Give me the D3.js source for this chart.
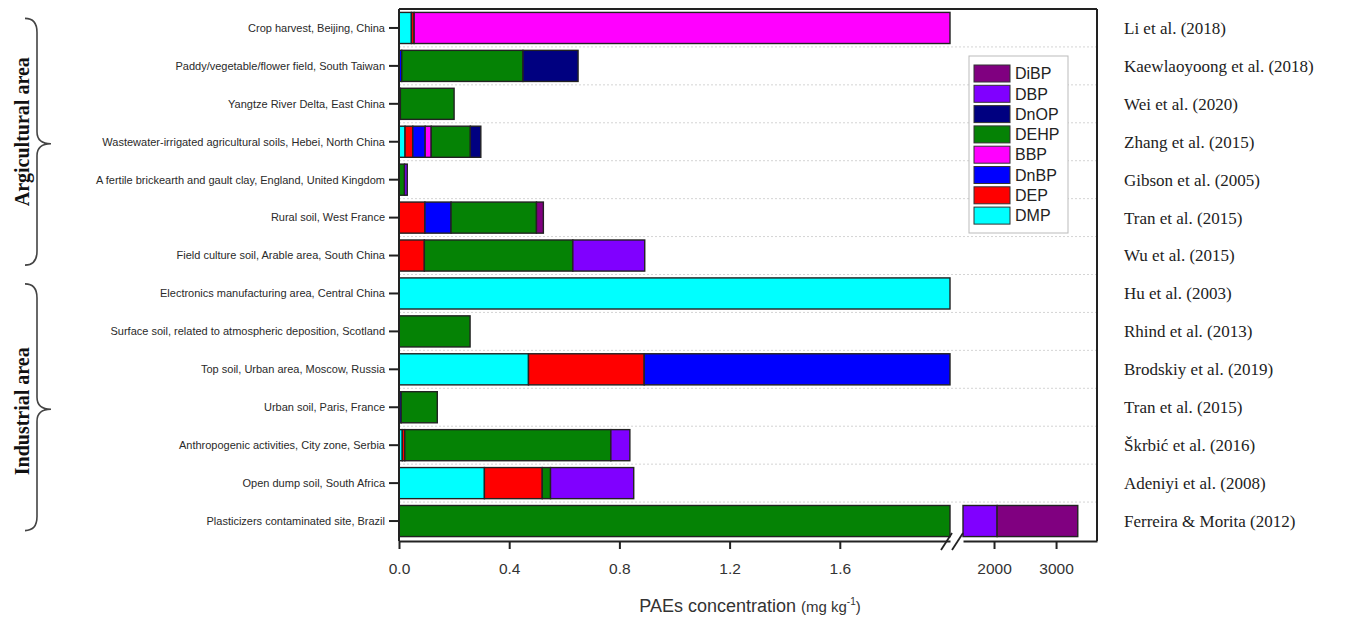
<!DOCTYPE html>
<html>
<head>
<meta charset="utf-8">
<script src="https://cdn.jsdelivr.net/npm/d3@7"></script>
<style>
  html, body { margin: 0; padding: 0; background: #fff; }
  svg { display: block; }
</style>
</head>
<body>
<svg id="chart" width="1363" height="621"></svg>
<script>
// ---------- DATA ----------
const categories = [
  "Crop harvest, Beijing, China",
  "Paddy/vegetable/flower field, South Taiwan",
  "Yangtze River Delta, East China",
  "Wastewater-irrigated agricultural soils, Hebei, North China",
  "A fertile brickearth and gault clay, England, United Kingdom",
  "Rural soil, West France",
  "Field culture soil, Arable area, South China",
  "Electronics manufacturing area, Central China",
  "Surface soil, related to atmospheric deposition, Scotland",
  "Top soil, Urban area, Moscow, Russia",
  "Urban soil, Paris, France",
  "Anthropogenic activities, City zone, Serbia",
  "Open dump soil, South Africa",
  "Plasticizers contaminated site, Brazil"
];
const references = [
  "Li et al. (2018)",
  "Kaewlaoyoong et al. (2018)",
  "Wei et al. (2020)",
  "Zhang et al. (2015)",
  "Gibson et al. (2005)",
  "Tran et al. (2015)",
  "Wu et al. (2015)",
  "Hu et al. (2003)",
  "Rhind et al. (2013)",
  "Brodskiy et al. (2019)",
  "Tran et al. (2015)",
  "Škrbić et al. (2016)",
  "Adeniyi et al. (2008)",
  "Ferreira & Morita (2012)"
];
const seriesNames = ["DMP", "DEP", "DnBP", "BBP", "DEHP", "DnOP", "DBP", "DiBP"];
const DMP  = [0.045, 0, 0, 0.022, 0, 0, 0, 2.0, 0, 0.47, 0, 0.012, 0.31, 0];
const DEP  = [0.01, 0, 0, 0.028, 0, 0.094, 0.092, 0, 0, 0.42, 0, 0.009, 0.21, 0];
const DnBP = [0, 0.01, 0.005, 0.045, 0, 0.095, 0, 0, 0, 1.11, 0.008, 0, 0, 0];
const BBP  = [1.945, 0, 0, 0.022, 0, 0, 0, 0, 0, 0, 0, 0, 0, 0];
const DEHP = [0, 0.44, 0.195, 0.142, 0.02, 0.31, 0.539, 0, 0.258, 0, 0.131, 0.748, 0.03, 1500];
const DnOP = [0, 0.2, 0, 0.038, 0, 0, 0, 0, 0, 0, 0, 0, 0, 0];
const DBP  = [0, 0, 0, 0, 0.01, 0, 0.261, 0, 0, 0, 0, 0.069, 0.302, 550];
const DiBP = [0, 0, 0, 0, 0, 0.025, 0, 0, 0, 0, 0, 0, 0, 1300];
const seriesColors = ["#00FFFF", "#FF0000", "#0000FF", "#FF00FF", "#058205", "#000080", "#8000FF", "#800080"];
const leftTicks = [0, 0.4, 0.8, 1.2, 1.6];
const rightTicks = [2000, 3000];
const groups = [
  { name: "Argicultural area", from: 0, to: 6, shift: -12 },
  { name: "Industrial area", from: 7, to: 13, shift: 2 }
];

// ---------- LAYOUT ----------
const svg = d3.select("#chart");
const plot = { left: 399, right: 1097, top: 9, bottom: 541 };
const breakLo = 2, breakHi = 1500, rightMax = 3660;
const breakL = 950, breakR = 963;

const x = d3.scaleLinear()
  .domain([0, breakLo, breakHi, rightMax])
  .range([plot.left, breakL, breakR, plot.right]);
const xLeft = d3.scaleLinear().domain([0, breakLo]).range([plot.left, breakL]);
const xRight = d3.scaleLinear().domain([breakHi, rightMax]).range([breakR, plot.right]);

const y = d3.scaleBand()
  .domain(categories)
  .range([plot.top, plot.bottom - 1])
  .paddingInner(0.18)
  .paddingOuter(0.09);

const color = d3.scaleOrdinal().domain(seriesNames).range(seriesColors);

const seriesArrays = [DMP, DEP, DnBP, BBP, DEHP, DnOP, DBP, DiBP];
const table = categories.map((c, i) => {
  const row = { category: c };
  seriesNames.forEach((s, k) => row[s] = seriesArrays[k][i]);
  return row;
});
const stacked = d3.stack().keys(seriesNames)(table);

// gridlines (dotted, between rows)
const step = y.step();
const gridG = svg.append("g");
categories.slice(0, -1).forEach((c, i) => {
  const gy = y(c) + y.bandwidth() + (step - y.bandwidth()) / 2;
  gridG.append("line")
    .attr("x1", plot.left).attr("x2", plot.right)
    .attr("y1", gy).attr("y2", gy)
    .attr("stroke", "#d4d4d4").attr("stroke-width", 1)
    .attr("stroke-dasharray", "2,2");
});

// bars
const barsG = svg.append("g");
stacked.forEach(layer => {
  layer.forEach((d, i) => {
    const a = d[0], b = d[1];
    if (b - a <= 0) return;
    const pieces = [];
    if (a < breakLo) pieces.push([a, Math.min(b, breakLo)]);
    if (b > breakHi) pieces.push([Math.max(a, breakHi), b]);
    pieces.forEach(p => {
      const w = x(p[1]) - x(p[0]);
      if (w <= 0) return;
      barsG.append("rect")
        .attr("x", x(p[0]))
        .attr("y", y(categories[i]))
        .attr("width", w)
        .attr("height", y.bandwidth())
        .attr("fill", color(layer.key))
        .attr("stroke", "#222")
        .attr("stroke-width", 1.4);
    });
  });
});

// frame
const frame = svg.append("g").attr("stroke", "#222").attr("stroke-width", 2).attr("fill", "none");
frame.append("line").attr("x1", plot.left).attr("x2", plot.right).attr("y1", plot.top).attr("y2", plot.top);
frame.append("line").attr("x1", plot.right).attr("x2", plot.right).attr("y1", plot.top).attr("y2", plot.bottom);
frame.append("line").attr("x1", plot.left).attr("x2", plot.left).attr("y1", plot.top).attr("y2", plot.bottom);

// x axes
const axL = svg.append("g").attr("transform", `translate(0,${plot.bottom})`)
  .call(d3.axisBottom(xLeft).tickValues(leftTicks).tickFormat(d3.format(".1f")).tickSizeInner(8).tickSizeOuter(0).tickPadding(14));
const axR = svg.append("g").attr("transform", `translate(0,${plot.bottom})`)
  .call(d3.axisBottom(xRight).tickValues(rightTicks).tickFormat(d3.format("d")).tickSizeInner(8).tickSizeOuter(0).tickPadding(14));
[axL, axR].forEach(ax => {
  ax.select(".domain").attr("stroke", "#222").attr("stroke-width", 2);
  ax.selectAll(".tick line").attr("stroke", "#222").attr("stroke-width", 2);
  ax.selectAll(".tick text")
    .attr("font-family", "Liberation Sans, Arial, sans-serif")
    .attr("font-size", 15.5).attr("fill", "#333");
});

// break marks
const brk = svg.append("g").attr("stroke", "#222").attr("stroke-width", 1.8);
[breakL - 4, breakR - 6].forEach(bx => {
  brk.append("line").attr("x1", bx - 5).attr("y1", plot.bottom + 9).attr("x2", bx + 6).attr("y2", plot.bottom - 8);
});

// y axis ticks and labels
const yG = svg.append("g");
categories.forEach(c => {
  const cy = y(c) + y.bandwidth() / 2;
  yG.append("line").attr("x1", plot.left - 10).attr("x2", plot.left)
    .attr("y1", cy).attr("y2", cy).attr("stroke", "#222").attr("stroke-width", 2);
  yG.append("text").attr("x", plot.left - 14).attr("y", cy).attr("dy", "0.35em")
    .attr("text-anchor", "end")
    .attr("font-family", "Liberation Sans, Arial, sans-serif")
    .attr("font-size", 11).attr("fill", "#2a2a2a").text(c);
});

// references on the right
const refG = svg.append("g");
references.forEach((r, i) => {
  const cy = y(categories[i]) + y.bandwidth() / 2;
  refG.append("text").attr("x", 1124).attr("y", cy).attr("dy", "0.35em")
    .attr("font-family", "Liberation Serif, Times New Roman, serif")
    .attr("font-size", 17).attr("fill", "#222").text(r);
});

// group braces and labels
const brG = svg.append("g");
groups.forEach(g => {
  const y0 = y(categories[g.from]) + 6;
  const y1 = y(categories[g.to]) + y.bandwidth() - 6;
  const ym = (y0 + y1) / 2 + 2;
  const sx = 37, ex = 25, tx = 51;
  const p = `M${ex},${y0} Q${sx},${y0} ${sx},${y0 + 14} L${sx},${ym - 12} Q${sx},${ym} ${tx},${ym} Q${sx},${ym} ${sx},${ym + 12} L${sx},${y1 - 14} Q${sx},${y1} ${ex},${y1}`;
  brG.append("path").attr("d", p).attr("fill", "none").attr("stroke", "#444").attr("stroke-width", 1.6);
  brG.append("text")
    .attr("transform", `translate(22,${ym + g.shift}) rotate(-90)`)
    .attr("text-anchor", "middle").attr("dy", "0.35em")
    .attr("font-family", "Liberation Serif, Times New Roman, serif")
    .attr("font-weight", "bold").attr("font-size", 20).attr("fill", "#111")
    .text(g.name);
});

// axis title
const title = svg.append("text").attr("x", 750).attr("y", 612).attr("text-anchor", "middle")
  .attr("font-family", "Liberation Sans, Arial, sans-serif").attr("fill", "#333");
title.append("tspan").attr("font-size", 18).text("PAEs concentration ");
title.append("tspan").attr("font-size", 15).text("(mg kg");
title.append("tspan").attr("font-size", 10).attr("dy", -7).text("-1");
title.append("tspan").attr("font-size", 15).attr("dy", 7).text(")");

// legend
const legend = svg.append("g");
legend.append("rect").attr("x", 969).attr("y", 56).attr("width", 99).attr("height", 177)
  .attr("fill", "#fff").attr("stroke", "#bbb").attr("stroke-width", 1);
const legendOrder = seriesNames.slice().reverse();
legendOrder.forEach((s, i) => {
  const ly = 65 + i * 20.3;
  legend.append("rect").attr("x", 974).attr("y", ly).attr("width", 36).attr("height", 17)
    .attr("fill", color(s)).attr("stroke", "#333").attr("stroke-width", 1);
  legend.append("text").attr("x", 1015).attr("y", ly + 8.5).attr("dy", "0.36em")
    .attr("font-family", "Liberation Sans, Arial, sans-serif")
    .attr("font-size", 16).attr("fill", "#222").text(s);
});
</script>
</body>
</html>
